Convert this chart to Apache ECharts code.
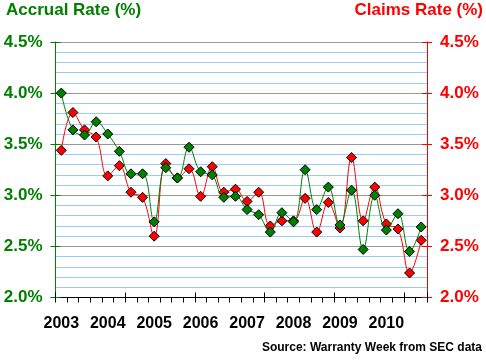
<!DOCTYPE html>
<html>
<head>
<meta charset="utf-8">
<script src="https://cdn.jsdelivr.net/npm/echarts@6/dist/echarts.min.js"></script>
<style>
html,body{margin:0;padding:0;background:#fff;}
#c{width:486px;height:362px;}
</style>
</head>
<body>
<div id="c"></div>
<script>
var quarters = [
  '2003 Q1','2003 Q2','2003 Q3','2003 Q4',
  '2004 Q1','2004 Q2','2004 Q3','2004 Q4',
  '2005 Q1','2005 Q2','2005 Q3','2005 Q4',
  '2006 Q1','2006 Q2','2006 Q3','2006 Q4',
  '2007 Q1','2007 Q2','2007 Q3','2007 Q4',
  '2008 Q1','2008 Q2','2008 Q3','2008 Q4',
  '2009 Q1','2009 Q2','2009 Q3','2009 Q4',
  '2010 Q1','2010 Q2','2010 Q3','2010 Q4'
];
var accrualRate = [
  4.00, 3.64, 3.59, 3.72,
  3.60, 3.43, 3.21, 3.21,
  2.74, 3.27, 3.17, 3.47,
  3.23, 3.20, 2.98, 2.99,
  2.86, 2.81, 2.64, 2.83,
  2.74, 3.25, 2.86, 3.08,
  2.71, 3.05, 2.47, 3.00,
  2.66, 2.82, 2.45, 2.69
];
var claimsRate = [
  3.44, 3.81, 3.64, 3.57,
  3.19, 3.29, 3.03, 2.98,
  2.60, 3.31, 3.17, 3.26,
  2.99, 3.28, 3.03, 3.06,
  2.94, 3.03, 2.70, 2.75,
  2.75, 2.97, 2.64, 2.93,
  2.68, 3.37, 2.75, 3.08,
  2.72, 2.67, 2.24, 2.56
];
var yMin = 2.0, yMax = 4.5, yStep = 0.5;

var FONT = "'Liberation Sans', Arial, sans-serif";
var GREEN = '#008000', RED = '#ff0000';

function yAxisDef(pos, color, withLabels, inside) {
  return {
    type: 'value', position: pos, min: yMin, max: yMax, interval: yStep,
    axisLine: { show: withLabels, lineStyle: { color: color, width: 1 } },
    axisTick: { show: true, inside: inside, length: 5, lineStyle: { color: color } },
    axisLabel: withLabels ? {
      show: true, color: color, fontFamily: FONT, fontWeight: 'bold', fontSize: 17, margin: 13,
      formatter: function (v) { return v.toFixed(1) + '%'; }
    } : { show: false },
    splitLine: { show: withLabels && pos === 'left', lineStyle: { color: '#999999', width: 1 } },
    minorTick: { show: false, splitNumber: 5 },
    minorSplitLine: { show: withLabels && pos === 'left', lineStyle: { color: '#99ccff', width: 1 } }
  };
}
// minor split lines need minorTick splitNumber
var yAxes = [
  yAxisDef('left', GREEN, true, false),
  yAxisDef('left', GREEN, false, true),
  yAxisDef('right', RED, true, false),
  yAxisDef('right', RED, false, true)
];

var chart = echarts.init(document.getElementById('c'), null, { renderer: 'canvas' });
chart.setOption({
  animation: false,
  backgroundColor: '#ffffff',
  grid: { left: 55.5, right: 59, top: 42, bottom: 64.5, containLabel: false },
  xAxis: [
    {
      type: 'category', data: quarters, boundaryGap: true, position: 'bottom',
      axisLine: { lineStyle: { color: '#000', width: 1 } },
      axisTick: { show: true, length: 5, lineStyle: { color: '#000' } },
      axisLabel: {
        interval: 0, color: '#000', fontFamily: FONT, fontWeight: 'bold', fontSize: 16, margin: 18,
        formatter: function (v) { return v.indexOf('Q1') >= 0 ? v.slice(0, 4) : ''; }
      },
      splitLine: { show: false }
    },
    {
      type: 'category', data: quarters, boundaryGap: true, position: 'bottom',
      axisLine: { show: false },
      axisTick: { show: true, inside: true, length: 5, lineStyle: { color: '#000' } },
      axisLabel: { show: false },
      splitLine: { show: false }
    }
  ],
  yAxis: yAxes,
  graphic: [
    { type: 'text', left: 6, top: 2, style: { text: 'Accrual Rate (%)', fill: GREEN, font: "bold 17px " + FONT } },
    { type: 'text', right: 3, top: 2, style: { text: 'Claims Rate (%)', fill: RED, font: "bold 17px " + FONT } },
    { type: 'text', right: 4, top: 342, style: { text: 'Source: Warranty Week from SEC data', fill: '#000', font: "bold 12px " + FONT } }
  ],
  series: [
    {
      name: 'Claims Rate', type: 'line', xAxisIndex: 0, yAxisIndex: 2, data: claimsRate,
      smooth: 0.4, symbol: 'diamond', symbolSize: 10,
      lineStyle: { color: RED, width: 1 },
      itemStyle: { color: RED, borderColor: '#000', borderWidth: 1 },
      z: 3
    },
    {
      name: 'Accrual Rate', type: 'line', xAxisIndex: 0, yAxisIndex: 0, data: accrualRate,
      smooth: 0.4, symbol: 'diamond', symbolSize: 10,
      lineStyle: { color: GREEN, width: 1 },
      itemStyle: { color: GREEN, borderColor: '#000', borderWidth: 1 },
      z: 4
    }
  ]
});
</script>
</body>
</html>
